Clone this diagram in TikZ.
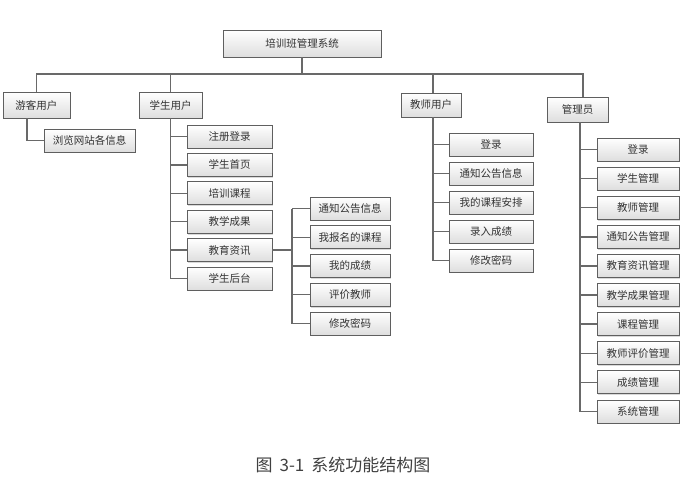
\documentclass[tikz,border=0pt]{standalone}
\usepackage{fontspec}
\newfontfamily\cjk{Noto Sans CJK SC}
\usepackage{tikz}
\usetikzlibrary{positioning,shadows}
\definecolor{boxline}{RGB}{95,95,95}
\definecolor{linkgray}{RGB}{105,105,105}

\begin{document}
\begin{tikzpicture}[x=1pt, y=-1pt, node distance=5pt]
                \tikzstyle{b} = [draw=boxline, line width=0.8pt, top color=white, bottom color=black!13, rectangle, minimum height=23pt, inner sep=1pt, font=\cjk\fontsize{10.5}{12}\selectfont, text=black!80, drop shadow={shadow xshift=1.3pt, shadow yshift=-1.3pt, opacity=0.3}]
                \tikzstyle{st} = [b, minimum width=85pt]
                \tikzstyle{sub} = [b, minimum width=80pt]
                \tikzstyle{te} = [b, minimum width=84pt]
                \tikzstyle{ad} = [b, minimum width=82pt]
                \tikzstyle{l} = [draw=linkgray, line width=1.4pt]
                \useasboundingbox (0,0) rectangle (694,483);

                % top level
                \node [b, minimum width=158pt, minimum height=27pt] (sys) at (302,43.5) {培训班管理系统};
                \node [b, minimum width=67pt, minimum height=26pt] (guest) at (36.5,105) {游客用户};
                \node [b, minimum width=63pt, minimum height=26pt] (stu) at (170.5,105) {学生用户};
                \node [b, minimum width=60pt, minimum height=24pt] (tea) at (431,105) {教师用户};
                \node [b, minimum width=61pt, minimum height=25pt] (adm) at (577.5,109.5) {管理员};
                \coordinate (bus) at (302,74);

                % guest
                \node [b, minimum width=91pt] (browse) at (89.5,140.5) {浏览网站各信息};

                % student
                \node [st] (s1) at (229.5,136.5) {注册登录};
                \node [st, below=4.6pt of s1] (s2) {学生首页};
                \node [st, below=4.6pt of s2] (s3) {培训课程};
                \node [st, below=4.6pt of s3] (s4) {教学成果};
                \node [st, below=4.6pt of s4] (s5) {教育资讯};
                \node [st, below=4.6pt of s5] (s6) {学生后台};

                % student back office
                \node [sub] (n1) at (350,208.5) {通知公告信息};
                \node [sub, below=4.95pt of n1] (n2) {我报名的课程};
                \node [sub, below=4.95pt of n2] (n3) {我的成绩};
                \node [sub, below=4.95pt of n3] (n4) {评价教师};
                \node [sub, below=4.95pt of n4] (n5) {修改密码};
                \coordinate (hub) at (292,0);

                % teacher
                \node [te] (t1) at (491,144.5) {登录};
                \node [te, below=5.2pt of t1] (t2) {通知公告信息};
                \node [te, below=5.2pt of t2] (t3) {我的课程安排};
                \node [te, below=5.2pt of t3] (t4) {录入成绩};
                \node [te, below=5.2pt of t4] (t5) {修改密码};

                % admin
                \node [ad] (a1) at (638,149.5) {登录};
                \node [ad, below=5.3pt of a1] (a2) {学生管理};
                \node [ad, below=5.3pt of a2] (a3) {教师管理};
                \node [ad, below=5.3pt of a3] (a4) {通知公告管理};
                \node [ad, below=5.3pt of a4] (a5) {教育资讯管理};
                \node [ad, below=5.3pt of a5] (a6) {教学成果管理};
                \node [ad, below=5.3pt of a6] (a7) {课程管理};
                \node [ad, below=5.3pt of a7] (a8) {教师评价管理};
                \node [ad, below=5.3pt of a8] (a9) {成绩管理};
                \node [ad, below=5.3pt of a9] (a10) {系统管理};

                \node [font=\cjk\fontsize{17}{20}\selectfont, text=black!75] (cap) at (343,465) {图\hspace{7pt}3-1\hspace{7pt}系统功能结构图};

                % links
                \draw [l] (sys) -- (bus);
                \draw [l] (guest.north) |- (bus) -| ([xshift=5.5pt]adm.north);
                \draw [l] (stu.north) -- (stu.north |- bus);
                \draw [l] ([xshift=2pt]tea.north) -- ([xshift=2pt]tea.north |- bus);
                \draw [l] ([xshift=-9.5pt]guest.south) |- (browse.west);
                \draw [l] (stu.south) |- (s6.west);
                \foreach \i in {1,...,5}
                    \draw [l] (stu.south |- s\i.west) -- (s\i.west);
                \draw [l] (s5.east) -- (hub |- s5.east);
                \draw [l] (hub |- n1.west) -- (hub |- n5.west);
                \foreach \i in {1,...,5}
                    \draw [l] (hub |- n\i.west) -- (n\i.west);
                \draw [l] ([xshift=2pt]tea.south) |- (t5.west);
                \foreach \i in {1,...,4}
                    \draw [l] ([xshift=2pt]tea.south |- t\i.west) -- (t\i.west);
                \draw [l] ([xshift=2.5pt]adm.south) |- (a10.west);
                \foreach \i in {1,...,9}
                    \draw [l] ([xshift=2.5pt]adm.south |- a\i.west) -- (a\i.west);
            \end{tikzpicture}
\end{document}
